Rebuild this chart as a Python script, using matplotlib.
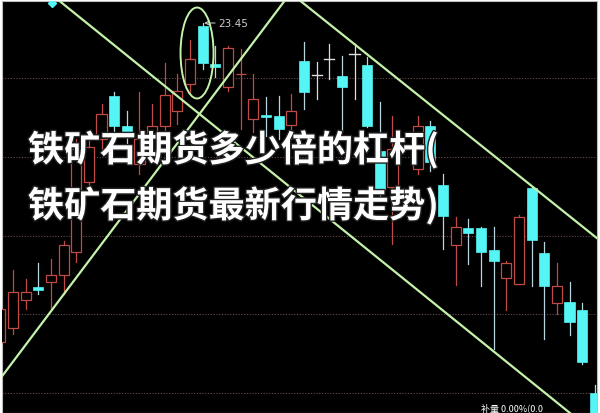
import matplotlib
matplotlib.use('Agg')
import matplotlib.pyplot as plt
from matplotlib.patches import Rectangle, Ellipse
import matplotlib.patheffects as pe
import numpy as np

plt.rcParams['font.family'] = ['Noto Sans CJK SC', 'DejaVu Sans']

# K线数据 (序号 -1 .. 46), None 表示被文字遮住看不清
opens = [17.07, 17.35, 17.91, 18.17, 18.27, 18.41, 18.87, 20.27, 21.13, 21.99,
         21.39, 20.63, 21.13, 21.39, 21.69, 22.23, 23.39, 22.63, 22.17, 22.42,
         21.53, 21.61, 21.59, 21.41, 22.69, 22.41, 22.73, 22.39, 22.83, 22.61,
         20.89, 20.17, None, 20.53, 21.39, 20.21, 19.01, 19.35, 19.35, 18.91,
         18.35, 18.23, 20.15, 18.85, 17.85, 17.87, 17.71, 16.05]
closes = [17.73, 18.07, 18.07, 18.11, 18.41, 19.01, 20.93, 20.97, 21.63, 21.39,
          21.19, 21.13, 21.39, 22.01, 22.09, 22.73, 22.65, 22.57, 22.95, 22.43,
          21.93, 21.57, 21.33, 21.69, 22.07, 22.41, 22.73, 22.17, 22.83, 21.39,
          20.13, 20.93, None, 21.39, 20.67, 19.59, 19.37, 19.25, 18.87, 18.69,
          18.65, 19.57, 19.11, 18.19, 18.19, 17.47, 16.67, 15.33]
highs = [17.85, 18.51, 18.33, 18.65, 18.73, 19.09, 21.13, 21.23, 21.83, 22.07,
         21.69, 22.07, 21.83, 22.65, 22.43, 23.11, 23.45, 22.99, 22.99, 22.93,
         22.43, 21.97, 21.99, 22.03, 23.07, 22.67, 23.03, 22.79, 23.03, 22.77,
         21.87, 21.59, None, 21.59, 21.49, 20.43, 19.57, 19.53, 19.37, 19.37,
         18.69, 19.61, 20.17, 19.07, 18.65, 18.27, 17.85, 16.21]
lows = [16.93, 17.23, 17.73, 18.03, 17.75, 18.03, 18.67, 20.13, 20.93, 21.27,
        20.99, 20.43, 20.93, 21.23, 21.43, 22.03, 22.53, 22.37, 22.09, 21.33,
        21.27, 21.19, 21.13, 21.13, 21.73, 21.93, 22.33, 21.27, 21.93, 21.37,
        19.99, 19.03, None, 20.43, 20.49, 18.93, 18.21, 18.63, 18.19, 16.93,
        17.71, 18.23, 18.19, 17.13, 17.63, 17.21, 16.63, 15.23]
idx = list(range(-1, 47))

grid_prices = [22.35, 20.77, 19.19, 17.63, 16.05]
max_label = '23.45'
max_pos = (15, 23.45)

# 画的趋势线 (序号, 价格)
trend_lines = [
    ((3.48, 23.93), (44.03, 15.65)),
    ((-1.03, 16.33), (21.58, 23.93)),
    ((22.53, 23.93), (46.25, 19.13)),
]
marker_pt = (3.08, 23.85)

title1 = '铁矿石期货多少倍的杠杆('
title2 = '铁矿石期货最新行情走势)'
bottom_txt = '补量 0.00%(0.0'

RED = '#c04a46'
CYAN = '#55f5f5'
GREEN = '#c4f2aa'

fig = plt.figure(figsize=(6, 4.14), dpi=100, facecolor='white')
ax = fig.add_axes([2 / 600, 0, 595 / 600, 412 / 414])
ax.set_facecolor('black')
ax.set_xlim(-0.87, 46.17)
ax.set_ylim(15.65, 23.89)
ax.set_xticks([])
ax.set_yticks(grid_prices)
ax.set_yticklabels([])
ax.tick_params(length=0)
ax.grid(axis='y', color='#6a4848', linestyle=(0, (1, 1.5)), linewidth=0.8)
for s in ax.spines.values():
    s.set_color('#bbbbbb')
    s.set_linewidth(0.8)

w = 0.8
for i, o, c, h, l in zip(idx, opens, closes, highs, lows):
    if o is None:
        continue
    if c > o:
        ax.plot([i, i], [l, h], color=RED, lw=0.9, zorder=2)
        ax.add_patch(Rectangle((i - w / 2, o), w, c - o, facecolor='black',
                               edgecolor=RED, lw=0.9, zorder=3))
    elif c < o:
        ax.plot([i, i], [l, h], color='#b8d4dc', lw=0.9, zorder=2)
        ax.add_patch(Rectangle((i - w / 2, c), w, o - c, facecolor=CYAN,
                               edgecolor=CYAN, lw=0.5, zorder=3))
    else:
        ax.plot([i, i], [l, h], color='#dddddd', lw=0.9, zorder=2)
        ax.plot([i - w / 2, i + w / 2], [o, o], color='#dddddd', lw=1.0, zorder=3)

for (x0, y0), (x1, y1) in trend_lines:
    ax.plot([x0, x1], [y0, y1], color=GREEN, lw=1.6, zorder=4)

ax.add_patch(Ellipse((14.55, 22.85), 2.61, 1.82, fill=False,
                     edgecolor=GREEN, lw=1.4, zorder=4))

ax.plot(*marker_pt, marker='D', color=CYAN, markersize=4, zorder=5)

ax.annotate(max_label, xy=max_pos, xytext=(16.2, 23.45),
            color='#cccccc', fontsize=7.5, va='center', family='DejaVu Sans',
            arrowprops=dict(arrowstyle='->', color='#cccccc', lw=0.7,
                            shrinkA=0, shrinkB=1))

stroke = [pe.withStroke(linewidth=2, foreground='#222222')]
fig.text(28 / 600, 1 - 151 / 414, title1, color='white', fontsize=26,
         fontweight='bold', va='center', ha='left', path_effects=stroke)
fig.text(28 / 600, 1 - 207 / 414, title2, color='white', fontsize=26,
         fontweight='bold', va='center', ha='left', path_effects=stroke)

ax.text(0.805, 0.003, bottom_txt, transform=ax.transAxes, color='white',
        fontsize=6.5, va='bottom', ha='left', zorder=6)

fig.savefig('out.png', dpi=100, facecolor='white')
